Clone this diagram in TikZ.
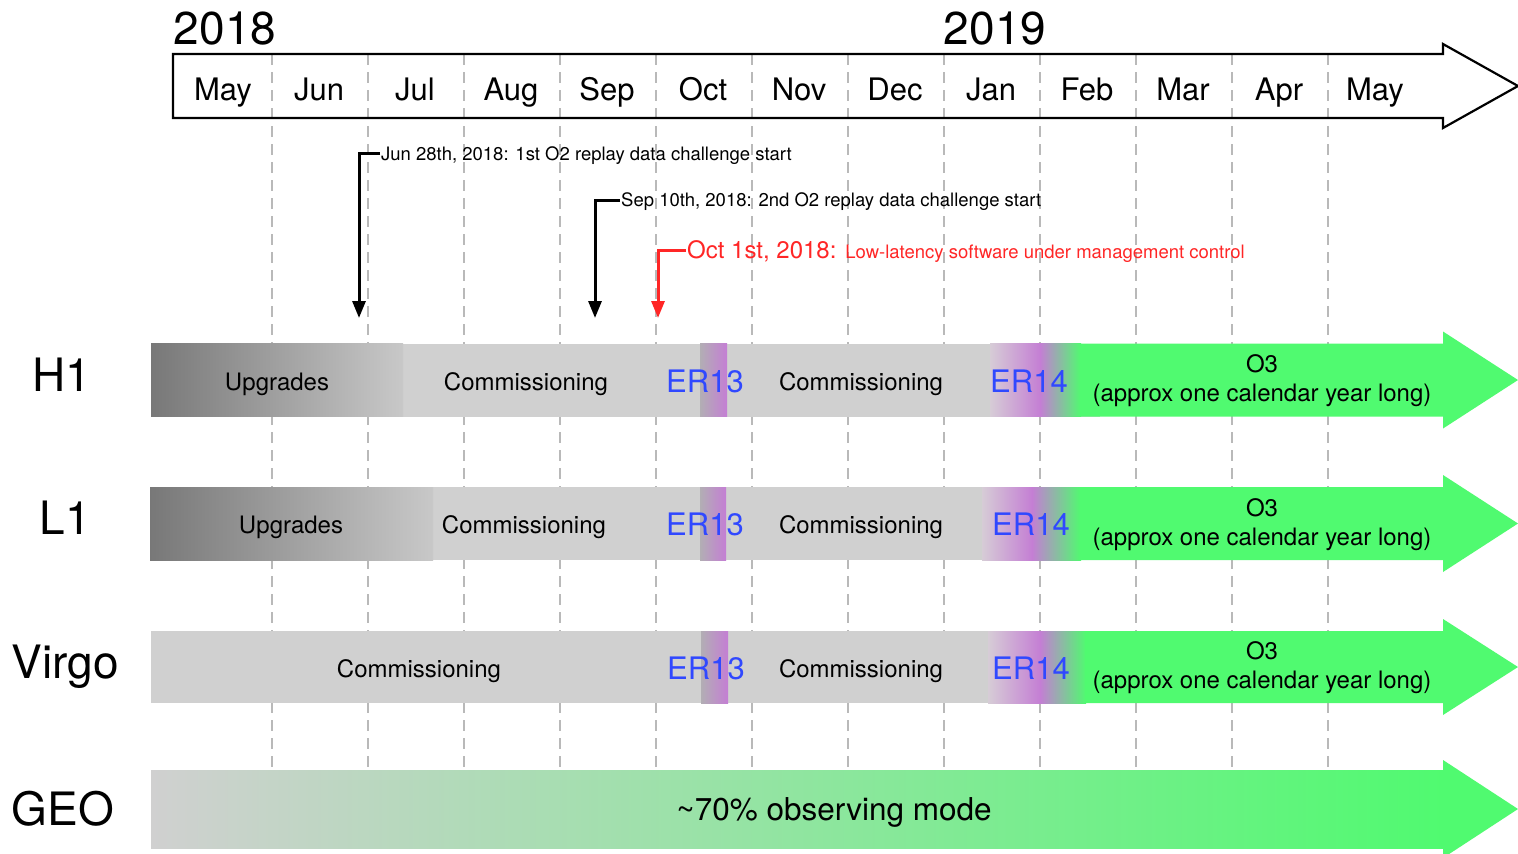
\documentclass[tikz,border=0pt]{standalone}
\usepackage{fontspec}
\setmainfont{TeX Gyre Heros}
\usetikzlibrary{arrows.meta}
\definecolor{commgray}{RGB}{208,208,208}
\definecolor{upgdark}{RGB}{120,120,120}
\definecolor{upglight}{RGB}{200,200,200}
\definecolor{erpurple}{RGB}{196,126,212}
\definecolor{erpale}{RGB}{214,204,214}
\definecolor{ergray}{RGB}{178,174,180}
\definecolor{obsgreen}{RGB}{80,250,112}
\definecolor{erblue}{RGB}{48,72,255}
\definecolor{annred}{RGB}{255,38,38}
\definecolor{gridgray}{RGB}{185,185,185}
\newcommand\myfs[1]{\fontsize{#1}{#1}\selectfont}
\begin{document}
\begin{tikzpicture}[x=1pt,y=-1pt,
  monthlbl/.style={anchor=base, font={\myfs{31}}, inner sep=0pt},
  yearlbl/.style={anchor=base, font={\myfs{46}}, inner sep=0pt},
  detlbl/.style={anchor=base, font={\myfs{46}}, inner sep=0pt},
  barlbl/.style={anchor=base, font={\myfs{24}}, inner sep=0pt},
  erlbl/.style={anchor=base, font={\myfs{31}}, text=erblue, inner sep=0pt},
  obslbl/.style={anchor=center, align=center, font={\fontsize{24}{29}\selectfont}, inner sep=0pt},
  annlbl/.style={anchor=base west, font={\myfs{18.5}}, inner sep=1pt},
  annarrow/.style={line width=3pt, -{Triangle[width=13pt,length=17pt]}},
  gridline/.style={gridgray, line width=1.2pt, dash pattern=on 11pt off 7pt},
  axisline/.style={line width=2.2pt, line join=miter}]
\useasboundingbox (0,0) rectangle (1518,854);
\fill[white] (0,0) rectangle (1518,854);

% timeline arrow
\fill[white] (173,54) -- (1443,54) -- (1443,44) -- (1518,86) -- (1443,128) -- (1443,118) -- (173,118) -- cycle;
\foreach \x in {272,368,...,1328} \draw[gridline] (\x,54) -- (\x,770);
\draw[axisline] (173,54) -- (1443,54) -- (1443,44) -- (1518,86) -- (1443,128) -- (1443,118) -- (173,118) -- cycle;

\node[yearlbl] (y2018) at (225,44.5) {2018};
\node[yearlbl] (y2019) at (995,44.5) {2019};
\foreach \m [count=\i] in {May,Jun,Jul,Aug,Sep,Oct,Nov,Dec,Jan,Feb,Mar,Apr,May}
  \node[monthlbl] (m\i) at ({127+96*\i},100) {\m};

% annotations
\node[annlbl] (ann1) at (380,160) {Jun 28th, 2018: 1st O2 replay data challenge start};
\coordinate (ann1end) at (359,318);
\draw[annarrow] ([yshift=6.5pt]ann1.base west) -| (ann1end);
\node[annlbl] (ann2) at (620,206) {Sep 10th, 2018: 2nd O2 replay data challenge start};
\coordinate (ann2end) at (595,318);
\draw[annarrow] ([yshift=5.5pt]ann2.base west) -| (ann2end);
\node[annlbl, text=annred, font={\myfs{24}}] (ann3) at (686,258.5) {Oct 1st, 2018: {\myfs{18.5}Low-latency software under management control}};
\coordinate (ann3end) at (658,318);
\draw[annarrow, annred] ([yshift=8pt]ann3.base west) -| (ann3end);

% H1
\fill[commgray] (151,343.5) rectangle (1100,416.5);
\shade[left color=upgdark,right color=upglight] (151,343.5) rectangle (403,416.5);
\shade[left color=ergray,right color=erpurple] (700,343.5) rectangle (727,416.5);
\shade[left color=erpale,right color=erpurple] (990,343.5) rectangle (1040.5,416.5);
\shade[left color=erpurple,right color=obsgreen] (1040,343.5) rectangle (1081,416.5);
\fill[obsgreen] (1080,343.5) -- (1443,343.5) -- (1443,331.5) -- (1518,380) -- (1443,428.5) -- (1443,416.5) -- (1080,416.5) -- cycle;
\node[detlbl] (h1) at (62,391.5) {H1};
\node[barlbl] (h1upg) at (277,390) {Upgrades};
\node[barlbl] (h1comma) at (526,390) {Commissioning};
\node[erlbl] (h1er13) at (705,392) {ER13};
\node[barlbl] (h1commb) at (861,390) {Commissioning};
\node[erlbl] (h1er14) at (1029,392) {ER14};
\node[obslbl] (h1o3) at (1262,381) {O3\\(approx one calendar year long)};

% L1
\fill[commgray] (150,487) rectangle (1100,560);
\shade[left color=upgdark,right color=upglight] (150,487) rectangle (433,560);
\shade[left color=ergray,right color=erpurple] (700,487) rectangle (726,560);
\shade[left color=erpale,right color=erpurple] (982,487) rectangle (1032.5,560);
\shade[left color=erpurple,right color=obsgreen] (1032,487) rectangle (1081,560);
\fill[obsgreen] (1080,487) -- (1443,487) -- (1443,475) -- (1518,523.5) -- (1443,572) -- (1443,560) -- (1080,560) -- cycle;
\node[detlbl] (l1) at (65,534.5) {L1};
\node[barlbl] (l1upg) at (291,533) {Upgrades};
\node[barlbl] (l1comma) at (524,533) {Commissioning};
\node[erlbl] (l1er13) at (705,535.5) {ER13};
\node[barlbl] (l1commb) at (861,533) {Commissioning};
\node[erlbl] (l1er14) at (1031,535.5) {ER14};
\node[obslbl] (l1o3) at (1262,524.5) {O3\\(approx one calendar year long)};

% Virgo
\fill[commgray] (151,631) rectangle (1100,703);
\shade[left color=ergray,right color=erpurple] (701,631) rectangle (728,703);
\shade[left color=erpale,right color=erpurple] (988,631) rectangle (1040.5,703);
\shade[left color=erpurple,right color=obsgreen] (1040,631) rectangle (1086,703);
\fill[obsgreen] (1085,631) -- (1443,631) -- (1443,619) -- (1518,667) -- (1443,715) -- (1443,703) -- (1085,703) -- cycle;
\node[detlbl] (virgo) at (65,678.5) {Virgo};
\node[barlbl] (vcomma) at (419,677) {Commissioning};
\node[erlbl] (ver13) at (706,679) {ER13};
\node[barlbl] (vcommb) at (861,677) {Commissioning};
\node[erlbl] (ver14) at (1031,679) {ER14};
\node[obslbl] (vo3) at (1262,668) {O3\\(approx one calendar year long)};

% GEO
\shade[left color=commgray,right color=obsgreen] (151,770) rectangle (1443.5,848);
\fill[obsgreen] (1443,770) -- (1443,760) -- (1518,809) -- (1443,858) -- (1443,848) -- cycle;
\node[detlbl] (geo) at (63,825.5) {GEO};
\node[erlbl, text=black, font={\myfs{31.5}}] (geoobs) at (834,820) {\textasciitilde 70\% observing mode};
\end{tikzpicture}
\end{document}
